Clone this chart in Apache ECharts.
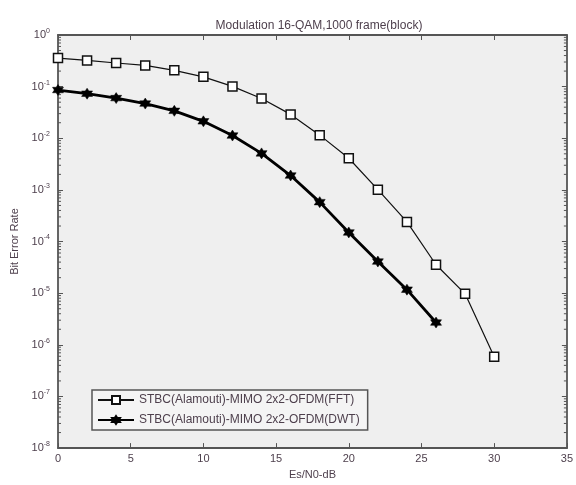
<!DOCTYPE html>
<html>
<head>
<meta charset="utf-8">
<script src="https://cdn.jsdelivr.net/npm/echarts@6/dist/echarts.min.js"></script>
<style>
  html, body { margin: 0; padding: 0; background: #fff; }
  #chart { width: 576px; height: 485px; }
</style>
</head>
<body>
<div id="chart"></div>
<script>
// Es/N0 values (dB) for each simulated point
const snrFFT = [0, 2, 4, 6, 8, 10, 12, 14, 16, 18, 20, 22, 24, 26, 28, 30];
const berFFT = [0.358, 0.322, 0.287, 0.258, 0.207, 0.155, 0.101, 0.059, 0.029, 0.0115,
                0.0041, 0.00101, 2.4e-4, 3.55e-5, 9.7e-6, 5.9e-7];

const snrDWT = [0, 2, 4, 6, 8, 10, 12, 14, 16, 18, 20, 22, 24, 26];
const berDWT = [0.086, 0.073, 0.060, 0.047, 0.034, 0.0213, 0.0113, 0.0051, 0.0019,
                5.8e-4, 1.5e-4, 4.1e-5, 1.17e-5, 2.7e-6];

const seriesNames = ['STBC(Alamouti)-MIMO 2x2-OFDM(FFT)', 'STBC(Alamouti)-MIMO 2x2-OFDM(DWT)'];
const titleText = 'Modulation 16-QAM,1000 frame(block)';
const xName = 'Es/N0-dB';
const yName = 'Bit Error Rate';

// decade exponents of the BER axis and the mantissas of its minor ticks
const decadeExps = [-8, -7, -6, -5, -4, -3, -2, -1];
const minorMantissas = [2, 3, 4, 5, 6, 7, 8, 9];
const minorTickValues = [];
decadeExps.forEach(e => minorMantissas.forEach(m => minorTickValues.push([0, m * Math.pow(10, e)])));

const textColor = '#4d3f4c';
const axisColor = '#555555';
const font = 'Liberation Sans, Arial, sans-serif';

// six-pointed star marker
const hexagram = 'path://M0,-10 L2.9,-5 L8.66,-5 L5.8,0 L8.66,5 L2.9,5 L0,10 L-2.9,5 L-8.66,5 L-5.8,0 L-8.66,-5 L-2.9,-5 Z';

const pair = (xs, ys) => xs.map((x, i) => [x, ys[i]]);

const chart = echarts.init(document.getElementById('chart'), null, { renderer: 'canvas' });

const boxAxisLine = { show: true, onZero: false, lineStyle: { color: axisColor, width: 1.8 } };
const inTick = { show: true, inside: true, length: 5, lineStyle: { color: axisColor, width: 1 } };

chart.setOption({
  backgroundColor: '#ffffff',
  animation: false,
  title: {
    text: titleText,
    left: 314, top: 15, textAlign: 'center',
    textStyle: { fontFamily: font, fontSize: 12, fontWeight: 'normal', color: textColor }
  },
  grid: {
    left: 58, right: 5, top: 35, bottom: 32,
    show: true, backgroundColor: '#efefef', borderWidth: 0
  },
  legend: {
    left: 92, top: 390,
    orient: 'vertical',
    itemWidth: 36, itemHeight: 10, itemGap: 8,
    padding: [4, 8, 4, 5],
    backgroundColor: '#f4f4f4',
    borderColor: '#555555', borderWidth: 1.5,
    textStyle: { fontFamily: font, fontSize: 12, color: textColor },
    data: seriesNames
  },
  xAxis: [{
    type: 'value', min: 0, max: 35, interval: 5,
    name: xName, nameLocation: 'middle', nameGap: 20,
    nameTextStyle: { fontFamily: font, fontSize: 11, color: textColor },
    axisLine: boxAxisLine,
    axisTick: inTick,
    axisLabel: { fontFamily: font, fontSize: 11, color: textColor, margin: 5 },
    splitLine: { show: false }
  }, {
    type: 'value', min: 0, max: 35, interval: 5, position: 'top',
    axisLine: boxAxisLine,
    axisTick: inTick,
    axisLabel: { show: false }, splitLine: { show: false }
  }],
  yAxis: [{
    type: 'log', logBase: 10, min: 1e-8, max: 1,
    name: yName, nameLocation: 'middle', nameGap: 34,
    nameTextStyle: { fontFamily: font, fontSize: 11, color: textColor },
    axisLine: boxAxisLine,
    axisTick: inTick,
    axisLabel: {
      fontFamily: font, color: textColor, margin: 8,
      formatter: v => '{b|10}{s|' + Math.round(Math.log10(v)) + '}',
      rich: {
        b: { fontFamily: font, fontSize: 11, color: textColor },
        s: { fontFamily: font, fontSize: 7, color: textColor, padding: [0, 0, 8, 0] }
      }
    },
    splitLine: { show: false }
  }, {
    type: 'log', logBase: 10, min: 1e-8, max: 1, position: 'right',
    axisLine: boxAxisLine,
    axisTick: inTick,
    axisLabel: { show: false }, splitLine: { show: false }
  }],
  series: [{
    // logarithmic minor ticks on the left and right frame edges
    name: 'minorTicks',
    type: 'custom',
    silent: true,
    clip: false,
    xAxisIndex: 0, yAxisIndex: 0,
    encode: { x: 0, y: 1 },
    data: minorTickValues,
    renderItem: (params, api) => {
      const y = api.coord([0, api.value(1)])[1];
      const cs = params.coordSys;
      const style = { stroke: axisColor, lineWidth: 1 };
      return {
        type: 'group',
        children: [
          { type: 'line', shape: { x1: cs.x, y1: y, x2: cs.x + 3, y2: y }, style },
          { type: 'line', shape: { x1: cs.x + cs.width - 3, y1: y, x2: cs.x + cs.width, y2: y }, style }
        ]
      };
    }
  }, {
    name: seriesNames[0],
    type: 'line',
    data: pair(snrFFT, berFFT),
    symbol: 'rect', symbolSize: 9,
    itemStyle: { color: '#ffffff', borderColor: '#111111', borderWidth: 1.5 },
    lineStyle: { color: '#111111', width: 1.2 },
    showAllSymbol: true,
    z: 3
  }, {
    name: seriesNames[1],
    type: 'line',
    data: pair(snrDWT, berDWT),
    symbol: hexagram, symbolSize: 11,
    itemStyle: { color: '#000000', borderColor: '#000000', borderWidth: 0.5 },
    lineStyle: { color: '#000000', width: 2.8 },
    showAllSymbol: true,
    z: 3
  }]
});
</script>
</body>
</html>
